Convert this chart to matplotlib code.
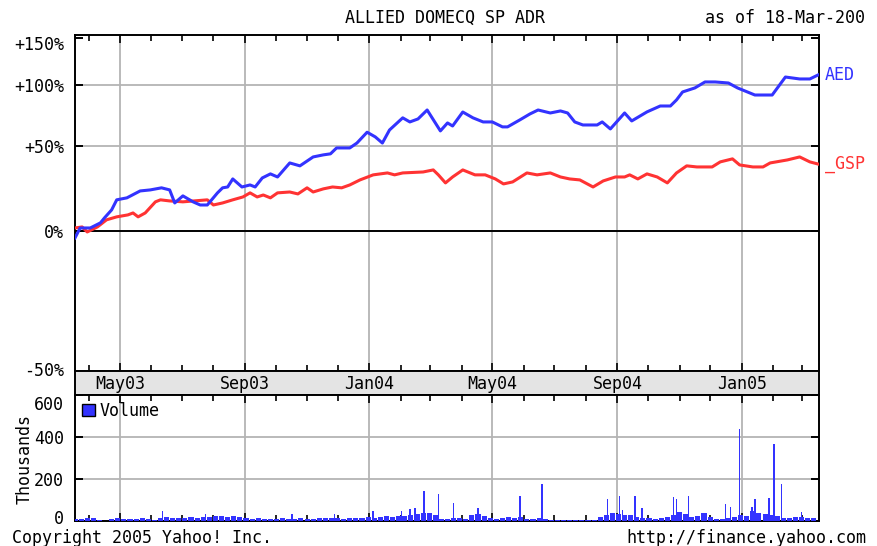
import numpy as np
import matplotlib
matplotlib.use("Agg")
import matplotlib.pyplot as plt
import matplotlib.dates as mdates
from matplotlib.ticker import NullLocator, NullFormatter
from matplotlib.patches import Patch
from matplotlib.transforms import ScaledTranslation

plt.rcParams['font.family'] = ['DejaVu Sans Mono', 'DejaVu Sans']
plt.rcParams['font.size'] = 12

start = np.datetime64('2003-03-18')
end = np.datetime64('2005-03-18')

# AED (blue) - days since 18-Mar-2003, % change
aed_day = [0, 5, 15, 25, 29, 36, 41, 51, 64, 74, 85, 93, 98, 106, 116, 123, 130, 140, 145, 150,
           155, 164, 172, 177, 184, 192, 199, 211, 221, 234, 244, 251, 257, 270, 277, 287, 295, 302, 309, 322,
           329, 337, 346, 359, 366, 371, 381, 391, 401, 410, 420, 425, 437, 447, 455, 467, 477, 484, 491, 499,
           513, 518, 526, 540, 547, 562, 575, 585, 591, 597, 609, 619, 629, 642, 651, 668, 685, 698, 712, 722, 730]
aed_pct = [-3.3, 1.4, 1.4, 3.9, 6.4, 10.5, 15.9, 17.0, 20.9, 21.5, 22.7, 21.5, 14.2, 18.1, 14.8, 13.1, 13.1, 19.8, 22.7, 23.2,
           28.0, 23.2, 24.4, 23.2, 28.6, 31.1, 29.2, 38.1, 36.2, 42.1, 43.5, 44.2, 48.3, 48.3, 51.8, 59.8, 56.3, 51.8, 61.5, 71.1,
           67.8, 70.2, 77.6, 60.8, 67.0, 64.6, 75.9, 71.1, 67.8, 67.8, 63.9, 63.9, 69.4, 74.3, 77.6, 75.1, 76.8, 75.1, 67.8, 65.4,
           65.4, 67.8, 62.3, 75.1, 68.6, 76.0, 81.0, 81.0, 86.3, 93.5, 97.2, 102.9, 102.9, 101.9, 97.2, 90.7, 90.7, 107.7, 105.8, 105.8, 109.7]

# S&P (red)
gsp_day = [0, 7, 12, 22, 31, 41, 52, 57, 62, 69, 79, 84, 93, 106, 130, 136, 145, 155, 165, 172,
           179, 185, 192, 199, 211, 219, 228, 234, 244, 253, 262, 270, 280, 293, 307, 314, 322, 342, 352, 357,
           364, 371, 381, 393, 403, 413, 421, 430, 444, 454, 467, 477, 486, 496, 509, 519, 531, 540, 545, 553,
           562, 572, 582, 591, 601, 611, 626, 634, 646, 653, 666, 676, 683, 700, 712, 722, 730]
gsp_pct = [1.4, 1.9, -0.5, 1.9, 5.4, 6.9, 7.9, 8.9, 6.9, 8.9, 14.8, 15.9, 15.3, 14.8, 15.9, 13.1, 14.2, 15.9, 17.5, 19.8,
           17.5, 18.6, 17.0, 19.8, 20.3, 19.2, 22.7, 20.3, 22.1, 23.2, 22.7, 24.4, 27.4, 30.5, 31.7, 30.5, 31.7, 32.3, 33.6, 30.5,
           25.6, 29.2, 33.6, 30.5, 30.5, 28.0, 25.0, 26.2, 31.7, 30.5, 31.7, 29.2, 28.0, 27.4, 23.2, 26.8, 29.2, 29.2, 30.5, 28.0,
           31.1, 29.2, 25.6, 31.7, 36.2, 35.5, 35.5, 38.8, 40.8, 36.8, 35.5, 35.5, 38.1, 40.1, 42.1, 38.8, 37.4]

# volume (thousands), background level every 6 days
vol_day = np.arange(0, 727, 6)
vol_k = [10, 8, 12, 15, 3, 2, 8, 12, 9, 10, 8, 12, 10, 6, 14, 18, 12, 15, 14, 18,
         16, 20, 18, 22, 24, 20, 22, 18, 12, 10, 12, 8, 10, 8, 12, 10, 9, 14, 8, 10,
         12, 14, 15, 12, 10, 14, 16, 14, 18, 15, 20, 22, 18, 24, 25, 30, 35, 40, 38, 30,
         8, 10, 12, 14, 10, 30, 35, 25, 12, 8, 12, 18, 12, 20, 10, 8, 14, 10, 4, 3,
         4, 5, 3, 5, 4, 6, 20, 30, 40, 35, 28, 30, 20, 12, 15, 10, 12, 18, 30, 45,
         35, 20, 25, 40, 20, 8, 10, 15, 20, 30, 25, 50, 40, 35, 30, 25, 15, 12, 18, 20,
         12, 15]
# single-day spikes
spike_day = [86, 128, 213, 255, 293, 321, 329, 334, 343, 357, 372, 396, 437, 459, 523, 535,
             538, 550, 557, 588, 591, 603, 639, 644, 653, 665, 668, 682, 687, 694, 714]
spike_k = [48, 33, 33, 33, 48, 48, 57, 62, 143, 129, 86, 62, 119, 176, 105, 119,
           52, 119, 62, 114, 105, 119, 81, 67, 438, 67, 105, 110, 367, 176, 43]


def to_dates(days):
    return start + np.asarray(days).astype('timedelta64[D]')


blue = '#3333ff'
red = '#ff3333'
grid_c = '#b4b4b4'
W, H = 878, 546

fig = plt.figure(figsize=(W / 100, H / 100), dpi=100)
ax = fig.add_axes([75 / W, 1 - 371 / H, 744 / W, 336 / H])
band = fig.add_axes([75 / W, 1 - 395 / H, 744 / W, 24 / H])
axv = fig.add_axes([75 / W, 1 - 521 / H, 744 / W, 126 / H])

for a in (ax, band, axv):
    a.set_xlim(start, end)
    for s in a.spines.values():
        s.set_linewidth(1.4)

# price panel
ax.plot(to_dates(gsp_day), 1 + np.array(gsp_pct) / 100, color=red, lw=2.2, zorder=3)
ax.plot(to_dates(aed_day), 1 + np.array(aed_pct) / 100, color=blue, lw=2.2, zorder=4)
ax.set_yscale('log')
ax.set_ylim(0.514, 2.536)
ax.yaxis.set_minor_locator(NullLocator())
ax.yaxis.set_minor_formatter(NullFormatter())
ax.set_yticks([0.514, 1.0, 1.5, 2.0, 2.5], labels=['-50%', '0%', '+50%', '+100%', '+150%'])
ax.tick_params(axis='y', direction='in', length=6, width=1.4, left=True, right=True, pad=8)
for v in (1.5, 2.0):
    ax.axhline(v, color=grid_c, lw=1.3, zorder=1)
ax.axhline(1.0, color='black', lw=1.4, zorder=2)

for a in (ax, axv):
    a.xaxis.set_major_locator(mdates.MonthLocator(bymonth=[1, 5, 9]))
    a.xaxis.set_minor_locator(mdates.MonthLocator())
    a.tick_params(axis='x', which='both', direction='in', top=True, bottom=True,
                  labelbottom=False, width=1.2)
    a.tick_params(axis='x', which='major', length=6)
    a.tick_params(axis='x', which='minor', length=4)
    a.grid(axis='x', which='major', color=grid_c, lw=1.3, zorder=0)

tr = ax.get_yaxis_transform()
ax.text(1.008, 1 + aed_pct[-1] / 100, 'AED', color=blue, transform=tr, va='center', ha='left')
ax.text(1.008, 1 + gsp_pct[-1] / 100, '_GSP', color=red, transform=tr, va='center', ha='left')

# date band
band.set_facecolor('#e4e4e4')
band.set_ylim(0, 1)
band.set_yticks([])
band.xaxis.set_major_locator(mdates.MonthLocator(bymonth=[1, 5, 9]))
band.tick_params(axis='x', length=0, labelbottom=False)
for t in band.get_xticks():
    band.text(t, 0.45, mdates.num2date(t).strftime('%b%y'), ha='center', va='center')

# volume panel
axv.bar(to_dates(vol_day), vol_k, width=5, color=blue, lw=0, zorder=3)
axv.bar(to_dates(spike_day), spike_k, width=1.5, color=blue, lw=0, zorder=3)
axv.set_ylim(0, 600)
axv.set_yticks([0, 200, 400, 600], labels=['0', '200', '400', '600'])
axv.tick_params(axis='y', direction='in', length=6, width=1.4, left=True, right=True, pad=8)
for v in (200, 400):
    axv.axhline(v, color=grid_c, lw=1.3, zorder=1)
axv.legend(handles=[Patch(facecolor=blue, edgecolor='black', lw=1)], labels=['Volume'],
           loc='upper left', frameon=False, handlelength=0.8, handleheight=0.8,
           handletextpad=0.3, borderaxespad=0.2, borderpad=0.2)

# nudge edge labels inward like the original
def nudge(label, dy_px):
    label.set_transform(label.get_transform() + ScaledTranslation(0, dy_px / 100, fig.dpi_scale_trans))

vl = axv.get_yticklabels()
nudge(vl[0], 4)
nudge(vl[-1], -8)
ml = ax.get_yticklabels()
nudge(ml[0], 2)
nudge(ml[-1], -5)

fig.text(25 / W, 1 - 459 / H, 'Thousands', rotation=90, ha='center', va='center')
fig.text(445 / W, 1 - 18 / H, 'ALLIED DOMECQ SP ADR', ha='center', va='center')
fig.text(705 / W, 1 - 18 / H, 'as of 18-Mar-200', ha='left', va='center')
fig.text(12 / W, 1 - 538 / H, 'Copyright 2005 Yahoo! Inc.', ha='left', va='center')
fig.text(866 / W, 1 - 538 / H, 'http://finance.yahoo.com', ha='right', va='center')

fig.savefig('out.png', dpi=100)
